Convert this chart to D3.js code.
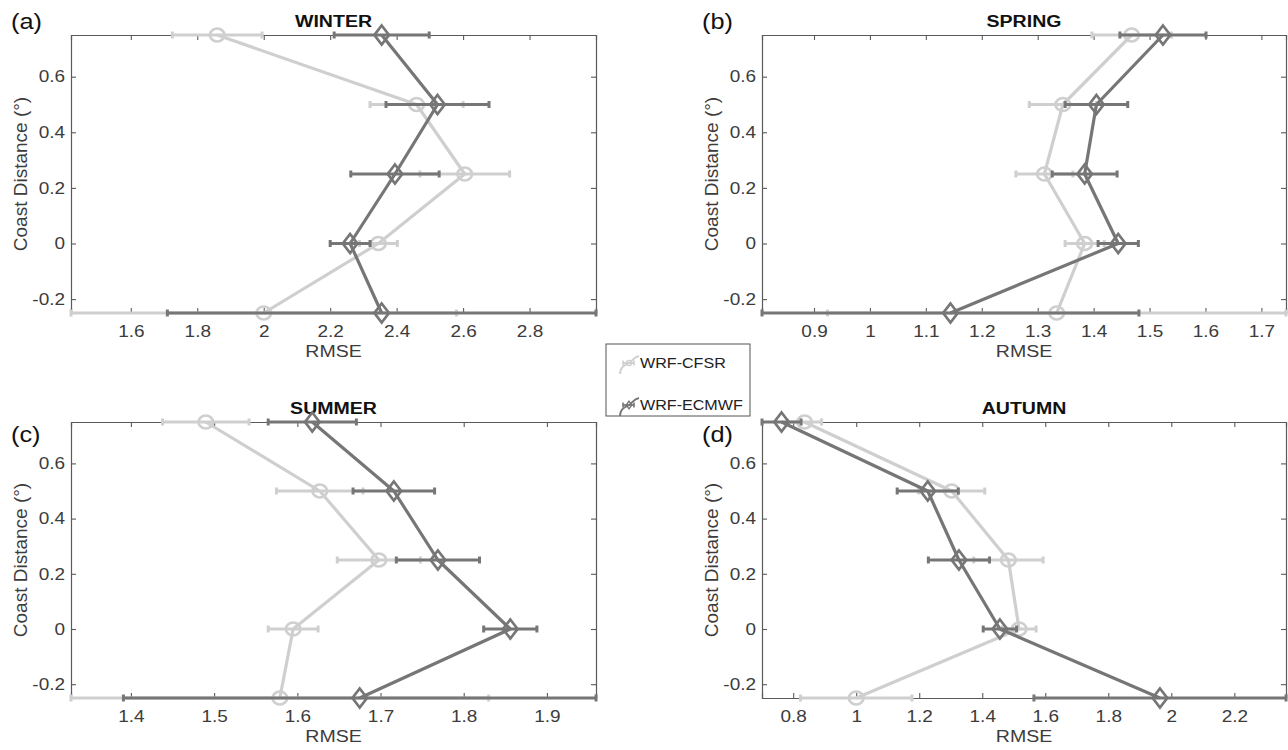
<!DOCTYPE html>
<html>
<head>
<meta charset="utf-8">
<script src="https://cdn.jsdelivr.net/npm/d3@7"></script>
<style>
  body { margin: 0; background: #fff; }
  svg { display: block; font-family: "Liberation Sans", Arial, sans-serif; }
</style>
</head>
<body>
<svg id="chart" width="1288" height="750"></svg>
<script>
// Coast distance levels (y values)
const coastDist = [0.75, 0.5, 0.25, 0, -0.25];
const yTicks = [-0.2, 0, 0.2, 0.4, 0.6];

const seasons = ["WINTER", "SPRING", "SUMMER", "AUTUMN"];
const panelLabels = ["(a)", "(b)", "(c)", "(d)"];
const seriesNames = ["WRF-CFSR", "WRF-ECMWF"];

// RMSE and error (half width) per season
const winterCfsr = [1.86, 2.46, 2.605, 2.345, 2.0];
const winterCfsrErr = [0.135, 0.14, 0.135, 0.057, 0.58];
const winterEcmwf = [2.355, 2.523, 2.395, 2.26, 2.355];
const winterEcmwfErr = [0.143, 0.155, 0.133, 0.06, 0.645];

const springCfsr = [1.468, 1.345, 1.312, 1.384, 1.334];
const springCfsrErr = [0.071, 0.06, 0.051, 0.035, 0.41];
const springEcmwf = [1.524, 1.405, 1.384, 1.444, 1.144];
const springEcmwfErr = [0.077, 0.056, 0.058, 0.036, 0.337];

const summerCfsr = [1.49, 1.627, 1.698, 1.595, 1.579];
const summerCfsrErr = [0.052, 0.052, 0.05, 0.03, 0.251];
const summerEcmwf = [1.618, 1.716, 1.769, 1.856, 1.675];
const summerEcmwfErr = [0.053, 0.049, 0.05, 0.032, 0.284];

const autumnCfsr = [0.836, 1.303, 1.483, 1.517, 1.0];
const autumnCfsrErr = [0.054, 0.105, 0.11, 0.054, 0.177];
const autumnEcmwf = [0.763, 1.227, 1.326, 1.456, 1.964];
const autumnEcmwfErr = [0.062, 0.097, 0.097, 0.053, 0.4];

// x tick labels per panel
const winterTicks = [1.6, 1.8, 2, 2.2, 2.4, 2.6, 2.8];
const springTicks = [0.9, 1, 1.1, 1.2, 1.3, 1.4, 1.5, 1.6, 1.7];
const summerTicks = [1.4, 1.5, 1.6, 1.7, 1.8, 1.9];
const autumnTicks = [0.8, 1, 1.2, 1.4, 1.6, 1.8, 2, 2.2];

const panelData = [
    { cfsr: winterCfsr, cfsrErr: winterCfsrErr, ecmwf: winterEcmwf, ecmwfErr: winterEcmwfErr, ticks: winterTicks },
    { cfsr: springCfsr, cfsrErr: springCfsrErr, ecmwf: springEcmwf, ecmwfErr: springEcmwfErr, ticks: springTicks },
    { cfsr: summerCfsr, cfsrErr: summerCfsrErr, ecmwf: summerEcmwf, ecmwfErr: summerEcmwfErr, ticks: summerTicks },
    { cfsr: autumnCfsr, cfsrErr: autumnCfsrErr, ecmwf: autumnEcmwf, ecmwfErr: autumnEcmwfErr, ticks: autumnTicks },
];

// layout
const boxes = [
    { x0: 71, x1: 596, y0: 35, y1: 313 },
    { x0: 762, x1: 1286, y0: 35, y1: 313 },
    { x0: 71, x1: 596, y0: 422, y1: 698 },
    { x0: 762, x1: 1286, y0: 422, y1: 698 },
];

const lightColor = "#cfcfcf";
const darkColor = "#767676";
const axisColor = "#5a5a5a";
const textColor = "#3c3c3c";
const stretch = 1.15; // text in the figure is a bit wide

const svg = d3.select("#chart");
const fmt = v => String(v);

// horizontal text, slightly widened
function addText(parent, x, y, str, size, anchor, color, bold) {
    const t = parent.append("g")
        .attr("transform", `translate(${x},${y}) scale(${stretch},1)`)
        .append("text")
        .attr("text-anchor", anchor)
        .attr("fill", color)
        .style("font-size", size + "px")
        .text(str);
    if (bold) t.style("font-weight", "bold");
    return t;
}

panelData.forEach((p, i) => {
    const b = boxes[i];
    const lo = d3.min([...p.cfsr.map((v, k) => v - p.cfsrErr[k]), ...p.ecmwf.map((v, k) => v - p.ecmwfErr[k])]);
    const hi = d3.max([...p.cfsr.map((v, k) => v + p.cfsrErr[k]), ...p.ecmwf.map((v, k) => v + p.ecmwfErr[k])]);

    const x = d3.scaleLinear().domain([lo, hi]).range([b.x0, b.x1]);
    const y = d3.scaleLinear().domain([-0.25, 0.75]).range([b.y1, b.y0]);

    const g = svg.append("g");

    // axes (ticks inside, box on)
    const tl = 5;
    const bottom = g.append("g")
        .attr("transform", `translate(0,${b.y1})`)
        .call(d3.axisBottom(x).tickValues(p.ticks).tickFormat(fmt).tickSize(-tl).tickPadding(12));
    const top = g.append("g")
        .attr("transform", `translate(0,${b.y0})`)
        .call(d3.axisTop(x).tickValues(p.ticks).tickFormat("").tickSize(-tl));
    const left = g.append("g")
        .attr("transform", `translate(${b.x0},0)`)
        .call(d3.axisLeft(y).tickValues(yTicks).tickFormat(fmt).tickSize(-tl).tickPadding(6));
    const right = g.append("g")
        .attr("transform", `translate(${b.x1},0)`)
        .call(d3.axisRight(y).tickValues(yTicks).tickFormat("").tickSize(-tl));

    [bottom, top, left, right].forEach(a => {
        a.select(".domain").attr("stroke", axisColor).attr("stroke-width", 1.2);
        a.selectAll(".tick line").attr("stroke", axisColor).attr("stroke-width", 1.1);
        a.selectAll(".tick text")
            .attr("fill", textColor)
            .attr("transform", `scale(${stretch},1)`)
            .style("font-size", "16.5px")
            .style("font-family", "'Liberation Sans', Arial, sans-serif");
    });
    left.selectAll(".tick text").attr("x", -6 / stretch);

    // labels
    addText(g, (b.x0 + b.x1) / 2, b.y1 + 44, "RMSE", 17, "middle", textColor);
    g.append("text")
        .attr("transform", `translate(${b.x0 - 44},${(b.y0 + b.y1) / 2}) rotate(-90)`)
        .attr("text-anchor", "middle").attr("fill", textColor)
        .style("font-size", "19px").text("Coast Distance (°)");
    addText(g, (b.x0 + b.x1) / 2, b.y0 - 8, seasons[i], 17, "middle", "#111", true);
    addText(g, b.x0 - 60, i < 2 ? b.y0 - 6 : b.y0 + 20, panelLabels[i], 22, "start", "#111");

    // series
    const series = [
        { vals: p.cfsr, err: p.cfsrErr, color: lightColor, marker: "circle" },
        { vals: p.ecmwf, err: p.ecmwfErr, color: darkColor, marker: "diamond" },
    ];

    const line = d3.line().x(d => x(d.v)).y(d => y(d.c));

    series.forEach(s => {
        const pts = s.vals.map((v, k) => ({ v, c: coastDist[k], e: s.err[k] }));
        const sg = g.append("g");

        sg.append("path")
            .datum(pts)
            .attr("d", line)
            .attr("fill", "none")
            .attr("stroke", s.color)
            .attr("stroke-width", 3.2)
            .attr("stroke-linejoin", "round");

        // error bars
        sg.selectAll(".eb")
            .data(pts)
            .join("line")
            .attr("x1", d => x(d.v - d.e)).attr("x2", d => x(d.v + d.e))
            .attr("y1", d => y(d.c)).attr("y2", d => y(d.c))
            .attr("stroke", s.color).attr("stroke-width", 3.2);
        sg.selectAll(".capL")
            .data(pts)
            .join("line")
            .attr("x1", d => x(d.v - d.e)).attr("x2", d => x(d.v - d.e))
            .attr("y1", d => y(d.c) - 3.5).attr("y2", d => y(d.c) + 3.5)
            .attr("stroke", s.color).attr("stroke-width", 3);
        sg.selectAll(".capR")
            .data(pts)
            .join("line")
            .attr("x1", d => x(d.v + d.e)).attr("x2", d => x(d.v + d.e))
            .attr("y1", d => y(d.c) - 3.5).attr("y2", d => y(d.c) + 3.5)
            .attr("stroke", s.color).attr("stroke-width", 3);

        // markers
        if (s.marker === "circle") {
            sg.selectAll(".m")
                .data(pts)
                .join("ellipse")
                .attr("cx", d => x(d.v)).attr("cy", d => y(d.c))
                .attr("rx", 7.3).attr("ry", 6.5)
                .attr("fill", "none")
                .attr("stroke", s.color).attr("stroke-width", 2.7);
        } else {
            sg.selectAll(".m")
                .data(pts)
                .join("path")
                .attr("d", d => {
                    const cx = x(d.v), cy = y(d.c);
                    return `M${cx},${cy - 9.5}L${cx + 7.3},${cy}L${cx},${cy + 9.5}L${cx - 7.3},${cy}Z`;
                })
                .attr("fill", "none")
                .attr("stroke", s.color).attr("stroke-width", 2.7);
        }
    });
});

// legend
const leg = svg.append("g").attr("transform", "translate(606,344)");
leg.append("rect")
    .attr("width", 144).attr("height", 72)
    .attr("fill", "#fff").attr("stroke", "#555").attr("stroke-width", 1);

[lightColor, darkColor].forEach((c, i) => {
    const cy = 19 + i * 42;
    const lg = leg.append("g").attr("transform", `translate(23,${cy})`);
    lg.append("path")
        .attr("d", "M-9,11 C-9,4 -4,2 0,0 C4,-2 4,-6 10,-7")
        .attr("fill", "none").attr("stroke", c).attr("stroke-width", 1.8);
    lg.append("line").attr("x1", -6).attr("x2", 5).attr("y1", 0).attr("y2", 0)
        .attr("stroke", c).attr("stroke-width", 1.8);
    lg.append("line").attr("x1", -6).attr("x2", -6).attr("y1", -2.5).attr("y2", 2.5)
        .attr("stroke", c).attr("stroke-width", 1.6);
    lg.append("line").attr("x1", 5).attr("x2", 5).attr("y1", -2.5).attr("y2", 2.5)
        .attr("stroke", c).attr("stroke-width", 1.6);
    if (i === 0) {
        lg.append("circle").attr("cx", 0).attr("cy", 0).attr("r", 2.6)
            .attr("fill", "none").attr("stroke", c).attr("stroke-width", 1.4);
    } else {
        lg.append("path").attr("d", "M0,-3.8L2.8,0L0,3.8L-2.8,0Z")
            .attr("fill", "none").attr("stroke", c).attr("stroke-width", 1.4);
    }
    addText(lg, 11, 5, seriesNames[i], 14, "start", "#222");
});
</script>
</body>
</html>
